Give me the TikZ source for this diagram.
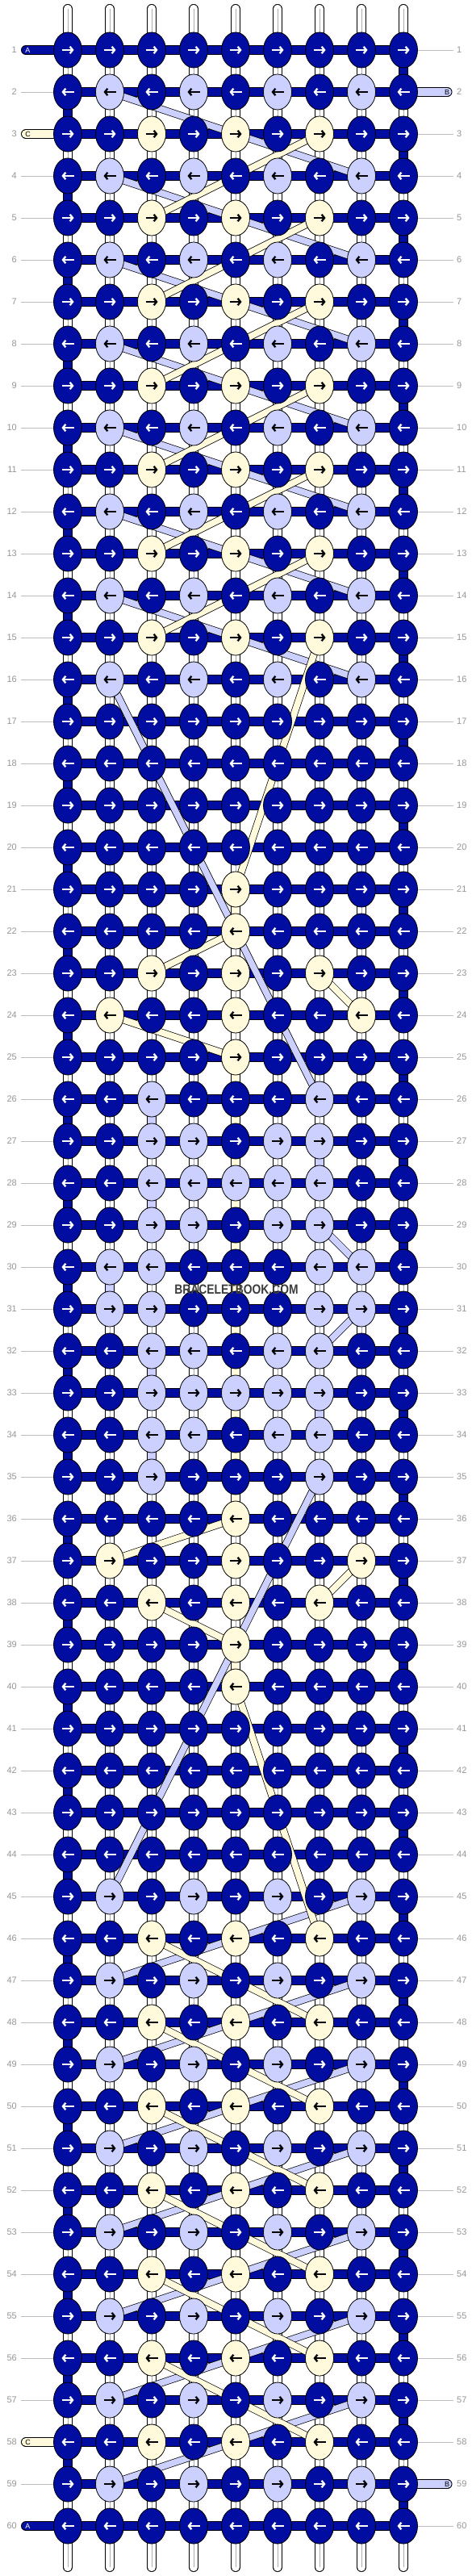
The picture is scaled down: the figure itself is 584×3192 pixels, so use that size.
\documentclass[tikz,border=0pt]{standalone}
\usepackage{fontspec}
\usepackage{graphicx}
\setmainfont{Liberation Sans}
\usetikzlibrary{shapes.geometric,arrows.meta}
\definecolor{Dc}{RGB}{0,13,160}
\definecolor{Lc}{RGB}{204,208,255}
\definecolor{Cc}{RGB}{255,250,219}
\definecolor{numgray}{RGB}{150,150,150}
\definecolor{linegray}{RGB}{190,190,190}
\definecolor{wmgray}{RGB}{60,60,60}
\pgfdeclarelayer{bg}
\pgfdeclarelayer{strands}
\pgfdeclarelayer{bars}
\pgfdeclarelayer{bands}
\pgfsetlayers{bg,strands,bars,bands,main}
\tikzset{
 knot/.style={ellipse, draw=black, line width=0.8pt, minimum width=35pt, minimum height=44pt, inner sep=0pt},
 knotD/.style={knot, fill=Dc}, knotL/.style={knot, fill=Lc}, knotC/.style={knot, fill=Cc},
 arr/.style={line width=2.3pt, -{Straight Barb[length=3.4pt,width=8.5pt]}},
 arD/.style={draw=white}, arL/.style={draw=black}, arC/.style={draw=black},
 warp/.style={draw=black, line width=0.8pt, double=white, double distance=10.4pt, line cap=round},
 warpmid/.style={draw=gray!65, line width=0.6pt},
 vseg/.style={draw=black, line width=0.8pt, double=#1, double distance=10.4pt},
 bar/.style={draw=black, line width=0.8pt, double=#1, double distance=10.4pt},
 endstr/.style={draw=black, line width=0.8pt, double=#1, double distance=10.4pt, line cap=round},
 band/.style={draw=black, line width=0.7pt, double=#1, double distance=7.8pt},
 num/.style={text=numgray, font=\fontsize{11}{13}\selectfont, inner sep=0pt},
 guide/.style={draw=linegray, line width=0.8pt},
 strlab/.style={font=\fontsize{9}{10}\selectfont, inner sep=0pt},
}
\begin{document}
\begin{tikzpicture}[x=1pt,y=-1pt]
\useasboundingbox (0,0) rectangle (584,3192);
\begin{pgfonlayer}{bg}\fill[white] (0,0) rectangle (584,3192);\end{pgfonlayer}
% knots
\foreach \r/\ka/\kb/\kc/\kd/\ke/\kf/\kg/\kh/\ki in {
1/D/D/D/D/D/D/D/D/D, 2/D/L/D/L/D/L/D/L/D, 3/D/D/C/D/C/D/C/D/D, 4/D/L/D/L/D/L/D/L/D,
5/D/D/C/D/C/D/C/D/D, 6/D/L/D/L/D/L/D/L/D, 7/D/D/C/D/C/D/C/D/D, 8/D/L/D/L/D/L/D/L/D,
9/D/D/C/D/C/D/C/D/D, 10/D/L/D/L/D/L/D/L/D, 11/D/D/C/D/C/D/C/D/D, 12/D/L/D/L/D/L/D/L/D,
13/D/D/C/D/C/D/C/D/D, 14/D/L/D/L/D/L/D/L/D, 15/D/D/C/D/C/D/C/D/D, 16/D/L/D/L/D/L/D/L/D,
17/D/D/D/D/D/D/D/D/D, 18/D/D/D/D/D/D/D/D/D, 19/D/D/D/D/D/D/D/D/D, 20/D/D/D/D/D/D/D/D/D,
21/D/D/D/D/C/D/D/D/D, 22/D/D/D/D/C/D/D/D/D, 23/D/D/C/D/C/D/C/D/D, 24/D/C/D/D/C/D/D/C/D,
25/D/D/D/D/C/D/D/D/D, 26/D/D/L/D/D/D/L/D/D, 27/D/D/L/L/D/L/L/D/D, 28/D/D/L/L/L/L/L/D/D,
29/D/D/L/L/D/L/L/D/D, 30/D/L/L/D/D/D/L/L/D, 31/D/L/L/D/D/D/L/L/D, 32/D/D/L/L/D/L/L/D/D,
33/D/D/L/L/L/L/L/D/D, 34/D/D/L/L/D/L/L/D/D, 35/D/D/L/D/D/D/L/D/D, 36/D/D/D/D/C/D/D/D/D,
37/D/C/D/D/C/D/D/C/D, 38/D/D/C/D/C/D/C/D/D, 39/D/D/D/D/C/D/D/D/D, 40/D/D/D/D/C/D/D/D/D,
41/D/D/D/D/D/D/D/D/D, 42/D/D/D/D/D/D/D/D/D, 43/D/D/D/D/D/D/D/D/D, 44/D/D/D/D/D/D/D/D/D,
45/D/L/D/L/D/L/D/L/D, 46/D/D/C/D/C/D/C/D/D, 47/D/L/D/L/D/L/D/L/D, 48/D/D/C/D/C/D/C/D/D,
49/D/L/D/L/D/L/D/L/D, 50/D/D/C/D/C/D/C/D/D, 51/D/L/D/L/D/L/D/L/D, 52/D/D/C/D/C/D/C/D/D,
53/D/L/D/L/D/L/D/L/D, 54/D/D/C/D/C/D/C/D/D, 55/D/L/D/L/D/L/D/L/D, 56/D/D/C/D/C/D/C/D/D,
57/D/L/D/L/D/L/D/L/D, 58/D/D/C/D/C/D/C/D/D, 59/D/L/D/L/D/L/D/L/D, 60/D/D/D/D/D/D/D/D/D}{
  \ifodd\r \def\dir{1}\else\def\dir{-1}\fi
  \foreach \c/\k in {1/\ka,2/\kb,3/\kc,4/\kd,5/\ke,6/\kf,7/\kg,8/\kh,9/\ki}{
    \node[knot\k] (k-\r-\c) at ({84+(\c-1)*52},{62+(\r-1)*52}) {};
    \draw[arr, ar\k] (k-\r-\c.center) ++({-7.5*\dir},0) -- ++({15*\dir},0);
  }
}
% warp strands and vertical segments
\begin{pgfonlayer}{strands}
\foreach \c in {1,...,9}{
  \coordinate (t-\c) at ({84+(\c-1)*52},11);
  \coordinate (b-\c) at ({84+(\c-1)*52},3181);
  \draw[warp] (t-\c) -- (b-\c);
  \draw[warpmid] (t-\c) -- (b-\c);
}
\foreach \r in {1,...,59}{
  \pgfmathtruncatemacro\rn{\r+1}
  \ifodd\r \def\cc{9}\else\def\cc{1}\fi
  \draw[vseg=Dc] (k-\r-\cc.center) -- (k-\rn-\cc.center);
}
\foreach \r in {21,25,26,27,28,29,30,31,32,33,34,35,39}{
  \pgfmathtruncatemacro\rn{\r+1}
  \draw[vseg=Cc] (k-\r-5.center) -- (k-\rn-5.center);
}
\foreach \r/\c in {26/3,28/3,32/3,34/3,27/7,33/7,30/2}{
  \pgfmathtruncatemacro\rn{\r+1}
  \draw[vseg=Lc] (k-\r-\c.center) -- (k-\rn-\c.center);
}
% guide lines
\foreach \r in {1,...,60}{
  \pgfmathsetmacro\yy{62+(\r-1)*52}
  \coordinate (gl-\r) at (26,\yy);
  \coordinate (gr-\r) at (562,\yy);
  \ifnum\r=1 \else\ifnum\r=3 \else\ifnum\r=58 \else\ifnum\r=60 \else
    \draw[guide] (gl-\r) -- (k-\r-1.west);
  \fi\fi\fi\fi
  \ifnum\r=2 \else\ifnum\r=59 \else
    \draw[guide] (k-\r-9.east) -- (gr-\r);
  \fi\fi
}
\end{pgfonlayer}
% row bars and string ends
\begin{pgfonlayer}{bars}
\foreach \r in {1,...,60}{
  \draw[bar=Dc] (k-\r-1.center) -- (k-\r-9.center);
}
\coordinate (sA1) at (32,62);
\coordinate (sB2) at (554.5,114);
\coordinate (sC3) at (32,166);
\coordinate (sC58) at (32,3026);
\coordinate (sB59) at (554.5,3078);
\coordinate (sA60) at (32,3130);
\draw[endstr=Dc] (sA1) -- (k-1-1.center);
\draw[endstr=Lc] (k-2-9.center) -- (sB2);
\draw[endstr=Cc] (sC3) -- (k-3-1.center);
\draw[endstr=Cc] (sC58) -- (k-58-1.center);
\draw[endstr=Lc] (k-59-9.center) -- (sB59);
\draw[endstr=Dc] (sA60) -- (k-60-1.center);
\end{pgfonlayer}
% diagonal carried strings
\begin{pgfonlayer}{bands}
\foreach \a/\b in {2/4,4/6,6/8,8/10,10/12,12/14,14/16}{
  \draw[band=Lc] (k-\a-2.center) -- (k-\b-8.center);
}
\foreach \a/\b in {47/45,49/47,51/49,53/51,55/53,57/55,59/57}{
  \draw[band=Lc] (k-\a-2.center) -- (k-\b-8.center);
}
\draw[band=Lc] (k-16-2.center) -- (k-26-7.center);
\draw[band=Lc] (k-29-7.center) -- (k-30-8.center);
\draw[band=Lc] (k-31-8.center) -- (k-32-7.center);
\draw[band=Lc] (k-35-7.center) -- (k-45-2.center);
\foreach \a/\b in {3/5,5/7,7/9,9/11,11/13,13/15}{
  \draw[band=Cc] (k-\a-7.center) -- (k-\b-3.center);
}
\foreach \a/\b in {46/48,48/50,50/52,52/54,54/56,56/58}{
  \draw[band=Cc] (k-\a-3.center) -- (k-\b-7.center);
}
\draw[band=Cc] (k-15-7.center) -- (k-21-5.center);
\draw[band=Cc] (k-22-5.center) -- (k-23-3.center);
\draw[band=Cc] (k-23-7.center) -- (k-24-8.center);
\draw[band=Cc] (k-24-2.center) -- (k-25-5.center);
\draw[band=Cc] (k-36-5.center) -- (k-37-2.center);
\draw[band=Cc] (k-37-8.center) -- (k-38-7.center);
\draw[band=Cc] (k-38-3.center) -- (k-39-5.center);
\draw[band=Cc] (k-40-5.center) -- (k-46-7.center);
\end{pgfonlayer}
% row numbers
\foreach \r in {1,...,60}{
  \pgfmathsetmacro\yy{62+(\r-1)*52}
  \node[num, anchor=east] (nl-\r) at (21,\yy) {\r};
  \node[num, anchor=west] (nr-\r) at (566,\yy) {\r};
}
% string labels
\node[strlab, text=white] (lA1) at (34.5,62) {A};
\node[strlab, text=black] (lB2) at (554,114) {B};
\node[strlab, text=black] (lC3) at (34.5,166) {C};
\node[strlab, text=black] (lC58) at (34.5,3026) {C};
\node[strlab, text=black] (lB59) at (554,3078) {B};
\node[strlab, text=white] (lA60) at (34.5,3130) {A};
% watermark
\node[text=wmgray, font=\fontsize{16.5}{18}\selectfont\bfseries, inner sep=0pt] (wm) at (293,1598) {\scalebox{0.84}[1]{BRACELETBOOK.COM}};
\end{tikzpicture}
\end{document}
